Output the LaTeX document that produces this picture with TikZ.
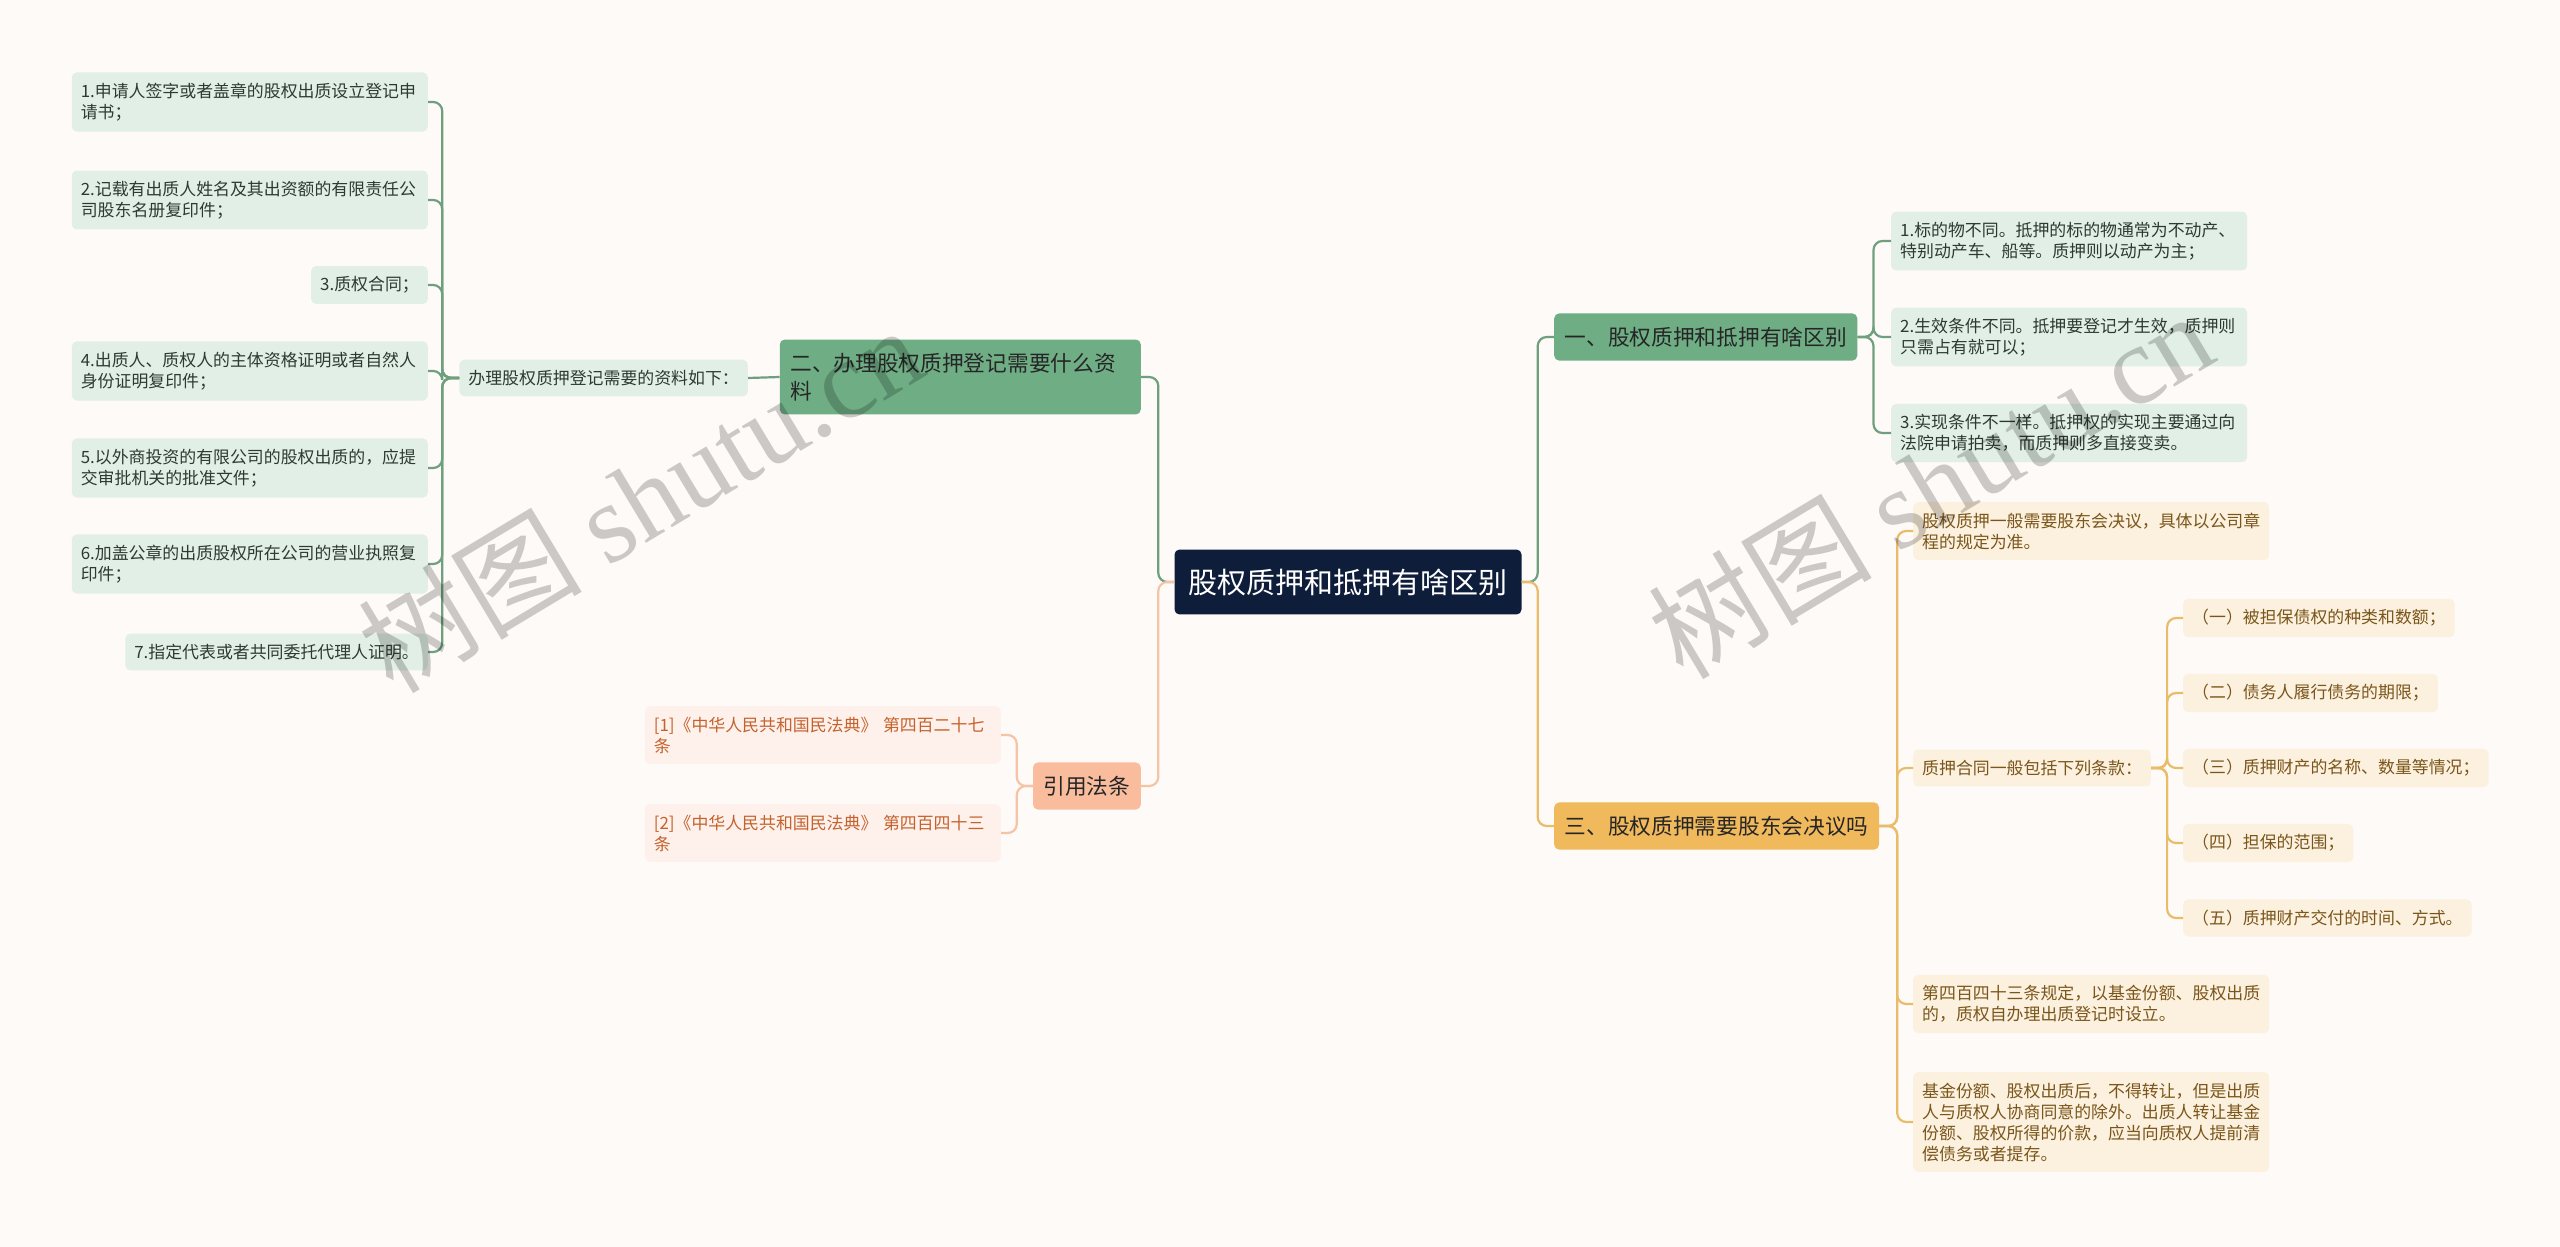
\documentclass[tikz,border=0pt]{standalone}
\usepackage{fontspec}
\setmainfont{Noto Sans CJK SC}
\newfontfamily\wmfont{Liberation Serif}
\newfontfamily\wmcjk{Noto Sans CJK SC}

\definecolor{bgcol}{HTML}{FEFAF8}
\definecolor{rootcol}{HTML}{0E1E3A}
\definecolor{gbranch}{HTML}{6FAE85}
\definecolor{gleaf}{HTML}{E2EFE6}
\definecolor{gline}{HTML}{6E9F7E}
\definecolor{gtext}{HTML}{2C3A31}
\definecolor{ybranch}{HTML}{F0B95B}
\definecolor{yleaf}{HTML}{FCF0DE}
\definecolor{yline}{HTML}{E9BC6A}
\definecolor{ytext}{HTML}{7A561B}
\definecolor{sbranch}{HTML}{F9BD9E}
\definecolor{sleaf}{HTML}{FEF1EB}
\definecolor{sline}{HTML}{F5C3A5}
\definecolor{stext}{HTML}{C4622D}

\tikzset{
  rootbox/.style={fill=rootcol, text=white, rounded corners=5pt, inner xsep=14pt, inner ysep=19pt,
    font=\fontsize{29}{34}\selectfont},
  branch/.style={rounded corners=5pt, inner xsep=10.5pt, inner ysep=13.5pt, align=left,
    font=\fontsize{21.7}{28}\selectfont},
  leaf/.style={rounded corners=5pt, inner xsep=9pt, inner ysep=10.5pt, align=left,
    font=\fontsize{16.9}{21}\selectfont},
  wide/.style={text width=338pt},
  gbox/.style={branch, fill=gbranch, text=black!85},
  ybox/.style={branch, fill=ybranch, text=black!85},
  sbox/.style={branch, fill=sbranch, text=black!85},
  gleafbox/.style={leaf, fill=gleaf, text=gtext},
  yleafbox/.style={leaf, fill=yleaf, text=ytext},
  sleafbox/.style={leaf, fill=sleaf, text=stext},
  glink/.style={draw=gline, line width=2.2pt, rounded corners=9pt},
  ylink/.style={draw=yline, line width=2.2pt, rounded corners=9pt},
  slink/.style={draw=sline, line width=2.2pt, rounded corners=9pt},
  watermark/.style={text=black, opacity=0.2, rotate=31, inner sep=0pt}
}

\begin{document}
\begin{tikzpicture}[x=1pt,y=-1pt]
  % Nền
  \fill[bgcol] (0,0) rectangle (2560,1247);

  % Nút gốc
  \node[rootbox] (root) at (1348,582) {股权质押和抵押有啥区别};

  % Các nhánh chính
  \node[gbox, anchor=west] (diff) at (1554,337) {一、股权质押和抵押有啥区别};
  \node[ybox, anchor=west] (vote) at (1554,826) {三、股权质押需要股东会决议吗};
  \node[gbox, anchor=east, text width=340pt] (docs) at (1141,377) {二、办理股权质押登记需要什么资\\料};
  \node[sbox, anchor=east] (cite) at (1141,786) {引用法条};

  % Nhánh một
  \node[gleafbox, wide, anchor=west] (diff1) at (1891,241) {1.标的物不同。抵押的标的物通常为不动产、\\特别动产车、船等。质押则以动产为主；};
  \node[gleafbox, wide, anchor=west] (diff2) at (1891,337) {2.生效条件不同。抵押要登记才生效，质押则\\只需占有就可以；};
  \node[gleafbox, wide, anchor=west] (diff3) at (1891,433) {3.实现条件不一样。抵押权的实现主要通过向\\法院申请拍卖，而质押则多直接变卖。};

  % Nhánh hai
  \node[gleafbox, anchor=east] (docsA) at (748,378) {办理股权质押登记需要的资料如下：};
  \node[gleafbox, wide, anchor=east] (doc1) at (428,102) {1.申请人签字或者盖章的股权出质设立登记申\\请书；};
  \node[gleafbox, wide, anchor=east] (doc2) at (428,200) {2.记载有出质人姓名及其出资额的有限责任公\\司股东名册复印件；};
  \node[gleafbox, anchor=east] (doc3) at (428,285) {3.质权合同；};
  \node[gleafbox, wide, anchor=east] (doc4) at (428,371) {4.出质人、质权人的主体资格证明或者自然人\\身份证明复印件；};
  \node[gleafbox, wide, anchor=east] (doc5) at (428,468) {5.以外商投资的有限公司的股权出质的，应提\\交审批机关的批准文件；};
  \node[gleafbox, wide, anchor=east] (doc6) at (428,564) {6.加盖公章的出质股权所在公司的营业执照复\\印件；};
  \node[gleafbox, anchor=east] (doc7) at (428,652) {7.指定代表或者共同委托代理人证明。};

  % Nhánh ba
  \node[yleafbox, wide, anchor=west] (vote1) at (1913,531) {股权质押一般需要股东会决议，具体以公司章\\程的规定为准。};
  \node[yleafbox, anchor=west] (vote2) at (1913,768) {质押合同一般包括下列条款：};
  \node[yleafbox, wide, anchor=west] (vote3) at (1913,1004) {第四百四十三条规定，以基金份额、股权出质\\的，质权自办理出质登记时设立。};
  \node[yleafbox, wide, anchor=west] (vote4) at (1913,1122) {基金份额、股权出质后，不得转让，但是出质\\人与质权人协商同意的除外。出质人转让基金\\份额、股权所得的价款，应当向质权人提前清\\偿债务或者提存。};
  \node[yleafbox, anchor=west] (term1) at (2183,618) {（一）被担保债权的种类和数额；};
  \node[yleafbox, anchor=west] (term2) at (2183,693) {（二）债务人履行债务的期限；};
  \node[yleafbox, anchor=west] (term3) at (2183,768) {（三）质押财产的名称、数量等情况；};
  \node[yleafbox, anchor=west] (term4) at (2183,843) {（四）担保的范围；};
  \node[yleafbox, anchor=west] (term5) at (2183,918) {（五）质押财产交付的时间、方式。};

  % Điều luật
  \node[sleafbox, wide, anchor=east] (cite1) at (1001,735) {[1]《中华人民共和国民法典》 第四百二十七\\条};
  \node[sleafbox, wide, anchor=east] (cite2) at (1001,833) {[2]《中华人民共和国民法典》 第四百四十三\\条};

  % Đường nối từ gốc
  \draw[glink] (root.east) -- ++(16,0) |- (diff.west);
  \draw[ylink] (root.east) -- ++(16,0) |- (vote.west);
  \draw[glink] (root.west) -- ++(-16,0) |- (docs.east);
  \draw[slink] (root.west) -- ++(-16,0) |- (cite.east);

  % Đường nối các nhánh con
  \foreach \i in {1,2,3}
    \draw[glink] (diff.east) -- ++(16,0) |- (diff\i.west);
  \draw[glink] (docs.west) -- (docsA.east);
  \foreach \i in {1,...,7}
    \draw[glink] (docsA.west) -- ++(-17,0) |- (doc\i.east);
  \foreach \i in {1,...,4}
    \draw[ylink] (vote.east) -- ++(18,0) |- (vote\i.west);
  \foreach \i in {1,...,5}
    \draw[ylink] (vote2.east) -- ++(16,0) |- (term\i.west);
  \foreach \i in {1,2}
    \draw[slink] (cite.west) -- ++(-16,0) |- (cite\i.east);

  % Hình mờ
  \node[watermark] (wm1) at (640,498) {\fontsize{112}{112}\selectfont\wmcjk 树图 \wmfont shutu.cn};
  \node[watermark] (wm2) at (1930,484) {\fontsize{112}{112}\selectfont\wmcjk 树图 \wmfont shutu.cn};
\end{tikzpicture}
\end{document}
